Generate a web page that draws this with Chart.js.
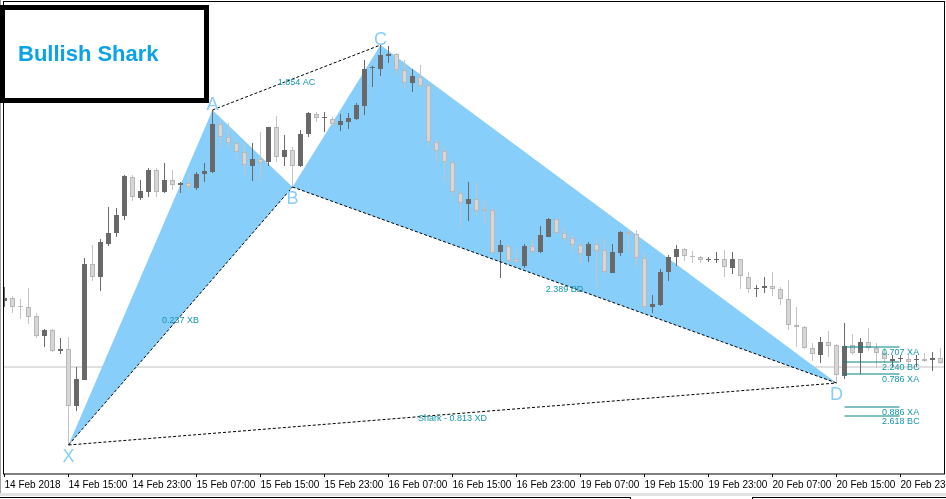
<!DOCTYPE html>
<html>
<head>
<meta charset="utf-8">
<script src="https://cdn.jsdelivr.net/npm/chart.js@4.4.0/dist/chart.umd.min.js"></script>
<style>
  html, body { margin: 0; padding: 0; background: #fff; }
  #wrap { width: 946px; height: 499px; }
</style>
</head>
<body>
<div id="wrap"><canvas id="chart" width="946" height="499"></canvas></div>
<script>
// H1 candles from 14 Feb 2018 07:00, prices in chart units (price scale is cut off in the picture)
const opens = [199,202,194,193,184,164,170,149,151,94,
  120,236,223,256,267,284,323,302,308,330,
  308,320,315,317,312,326,328,376,363,357,
  348,334,341,338,373,343,350,334,366,386,
  382,381,375,378,381,394,432,431,444,446,
  430,417,423,415,358,349,338,307,296,301,
  291,290,248,254,241,234,254,248,263,281,
  267,262,255,244,256,250,227,247,268,266,
  242,193,195,228,243,251,244,243,240,240,
  241,232,241,223,211,212,214,211,201,175,
  173,152,145,158,155,124,155,147,158,152,
  147,139,141,141,140,141,140,142];
const highs = [213,204,201,212,187,171,171,162,163,133,
  242,255,261,293,292,325,325,320,332,332,
  337,330,318,328,328,337,390,382,377,360,
  357,357,368,373,384,365,353,370,388,388,
  388,383,386,387,397,440,434,455,454,447,
  440,431,435,417,360,353,338,310,318,318,
  298,292,260,255,250,256,262,274,282,282,
  272,265,258,258,262,260,256,269,271,270,
  248,205,231,245,255,252,249,244,243,248,
  250,248,241,228,215,223,228,213,220,193,
  174,157,163,169,156,177,166,162,172,157,
  152,145,145,145,145,147,148,152];
const lows = [193,187,181,176,162,153,148,146,55,89,
  120,219,209,254,263,280,299,300,303,303,
  307,310,307,310,310,318,327,353,352,341,
  325,319,321,334,338,334,313,333,363,378,
  368,373,369,371,380,385,413,424,437,426,
  412,408,412,352,338,318,303,273,279,285,
  277,247,222,238,237,232,247,247,263,266,
  258,249,237,238,213,225,227,244,247,233,
  189,187,194,219,234,239,237,237,238,237,
  223,226,211,207,203,207,204,195,170,153,
  151,139,137,143,117,121,145,126,149,132,
  137,133,138,136,133,138,129,136];
const closes = [202,193,193,183,164,170,149,151,94,121,
  236,223,258,267,285,324,303,309,330,308,
  320,315,317,313,326,329,376,363,357,348,
  335,341,337,373,343,350,334,366,387,382,
  383,376,379,382,395,431,433,445,446,430,
  417,424,414,358,349,338,308,297,301,289,
  289,247,255,239,238,254,248,265,281,267,
  261,255,246,256,249,228,248,268,266,242,
  193,196,228,243,251,244,243,240,241,241,
  233,241,224,211,212,214,211,201,175,173,
  152,146,158,154,125,154,147,158,152,147,
  141,141,142,138,141,139,142,137];

// harmonic pattern points (bar index, price)
const patternNames = ['X', 'A', 'B', 'C', 'D'];
const patternIdx = [8, 26, 36, 47, 104];
const patternVals = [55, 390, 313, 455, 117];

// dotted legs with their ratio text
const legText = ['0.237 XB', '1.854 AC', '2.389 BD', 'Shark - 0.813 XD'];
const legFrom = [0, 1, 2, 0];
const legTo = [2, 3, 4, 4];

// target levels on the right
const levelNames = ['0.707 XA', '2.240 BC', '0.786 XA', '0.886 XA', '2.618 BC'];
const levelVals = [153, 138, 126, 93, 84];
const bidPrice = 133;

const tickIdx = [0, 8, 16, 24, 32, 40, 48, 56, 64, 72, 80, 88, 96, 104, 112];
const tickLabels = ['14 Feb 2018', '14 Feb 15:00', '14 Feb 23:00', '15 Feb 07:00', '15 Feb 15:00',
  '15 Feb 23:00', '16 Feb 07:00', '16 Feb 15:00', '16 Feb 23:00', '19 Feb 07:00',
  '19 Feb 15:00', '19 Feb 23:00', '20 Feb 07:00', '20 Feb 15:00', '20 Feb 23:00'];

const FONT = '"Liberation Sans", Arial, sans-serif';
const DARK = '#696969';
const LIGHT = '#d6d6d6';
const LIGHT_EDGE = '#b8b8b8';
const SKY = '#87cefa';

const up = opens.map((o, i) => closes[i] > o);
const pt = k => ({ x: patternIdx[k], y: patternVals[k] });

function dashed(k) {
  return {
    type: 'line', order: 0,
    data: [pt(legFrom[k]), pt(legTo[k])],
    borderColor: '#000', borderWidth: 1, borderDash: [3, 2],
    pointRadius: 0, fill: false
  };
}

const datasets = [
  // 0: bid line
  { type: 'line', order: 6, data: [{ x: -0.1875, y: bidPrice }, { x: 117.5625, y: bidPrice }],
    borderColor: '#c0c0c0', borderWidth: 1, pointRadius: 0, fill: false },
  // 1: X-A-B outline filled down to the X-B leg
  { type: 'line', order: 5, data: [pt(0), pt(1), pt(2)],
    borderColor: 'rgba(0,0,0,0)', borderWidth: 1, pointRadius: 0,
    backgroundColor: SKY, fill: 2 },
  // 2: X-B leg
  dashed(0),
  // 3: B-C-D outline filled down to the B-D leg
  { type: 'line', order: 5, data: [pt(2), pt(3), pt(4)],
    borderColor: 'rgba(0,0,0,0)', borderWidth: 1, pointRadius: 0,
    backgroundColor: SKY, fill: 4 },
  // 4: B-D leg
  dashed(2),
  // 5, 6: A-C and X-D legs
  dashed(1),
  dashed(3),
  // 7: wicks
  { type: 'bar', order: 2, grouped: false, barThickness: 1, inflateAmount: 0,
    data: lows.map((l, i) => ({ x: i, y: [l, highs[i]] })),
    backgroundColor: up.map(u => u ? DARK : '#c4c4c4'), borderWidth: 0 },
  // 8: bodies
  { type: 'bar', order: 1, grouped: false, barThickness: 5, inflateAmount: 0,
    data: opens.map((o, i) => ({ x: i, y: [Math.min(o, closes[i]), Math.max(o, closes[i])] })),
    backgroundColor: up.map(u => u ? DARK : LIGHT),
    borderColor: up.map(u => u ? DARK : LIGHT_EDGE),
    borderWidth: 1, borderSkipped: false }
];

levelVals.forEach(v => {
  datasets.push({ type: 'line', order: 0, data: [{ x: 105, y: v }, { x: 111.875, y: v }],
    borderColor: '#008080', borderWidth: 1, pointRadius: 0, fill: false });
});

const overlay = {
  id: 'overlay',
  afterDatasetsDraw(chart) {
    const { ctx, scales: { x, y } } = chart;
    ctx.save();
    ctx.font = '9px ' + FONT;
    ctx.fillStyle = '#1496aa';
    ctx.textAlign = 'center';
    ctx.textBaseline = 'middle';
    legText.forEach((t, k) => {
      const a = legFrom[k], b = legTo[k];
      const mx = (x.getPixelForValue(patternIdx[a]) + x.getPixelForValue(patternIdx[b])) / 2;
      const my = (y.getPixelForValue(patternVals[a]) + y.getPixelForValue(patternVals[b])) / 2;
      ctx.fillText(t, mx, my + 5);
    });
    ctx.textAlign = 'left';
    ctx.textBaseline = 'top';
    levelNames.forEach((t, k) => {
      ctx.fillText(t, x.getPixelForValue(109.7), y.getPixelForValue(levelVals[k]) + 1);
    });
    ctx.font = '18px ' + FONT;
    ctx.fillStyle = SKY;
    ctx.textAlign = 'center';
    ctx.textBaseline = 'middle';
    patternNames.forEach((n, k) => {
      const px = x.getPixelForValue(patternIdx[k]);
      const py = y.getPixelForValue(patternVals[k]) + (k % 2 ? -5 : 12);
      ctx.fillText(n, px, py);
    });
    ctx.restore();
  },
  afterDraw(chart) {
    const { ctx, chartArea: ca } = chart;
    ctx.save();
    // plot frame
    ctx.strokeStyle = '#000';
    ctx.lineWidth = 1;
    ctx.strokeRect(ca.left + 0.5, ca.top - 0.5, ca.right - ca.left - 1, ca.bottom - ca.top + 0.5);
    // window edges
    ctx.fillStyle = '#a0a0a0';
    ctx.fillRect(0, 0, 1, 494);
    ctx.fillStyle = '#e2e2e2';
    ctx.fillRect(0, 493, 946, 3);
    ctx.fillStyle = '#000';
    ctx.fillRect(0, 497, 630, 1);
    ctx.fillRect(752, 497, 194, 1);
    ctx.fillRect(630, 497, 1, 2);
    ctx.fillRect(752, 497, 1, 2);
    // title box
    ctx.fillStyle = '#fff';
    ctx.fillRect(2, 7, 205, 94);
    ctx.lineWidth = 5;
    ctx.strokeRect(2.5, 7.5, 204, 93);
    ctx.font = 'bold 22px ' + FONT;
    ctx.fillStyle = '#0ba2e8';
    ctx.textAlign = 'left';
    ctx.textBaseline = 'alphabetic';
    ctx.fillText('Bullish Shark', 18, 61);
    ctx.restore();
  }
};

new Chart(document.getElementById('chart'), {
  type: 'bar',
  data: { datasets },
  options: {
    responsive: false,
    animation: false,
    devicePixelRatio: 1,
    layout: { padding: { left: 3, right: 1, top: 2, bottom: 0 } },
    plugins: { legend: { display: false }, tooltip: { enabled: false } },
    scales: {
      x: {
        type: 'linear',
        offset: false,
        min: -0.1875,
        max: 117.5625,
        afterBuildTicks: s => { s.ticks = tickIdx.map(v => ({ value: v })); },
        afterFit: s => { s.height = 25; s.paddingLeft = 0; s.paddingRight = 0; },
        ticks: {
          autoSkip: false, maxRotation: 0, minRotation: 0, align: 'start', padding: 2,
          color: '#000', font: { family: FONT, size: 10 },
          callback: (v, i) => tickLabels[i]
        },
        grid: { offset: false, drawOnChartArea: false, drawTicks: true, tickLength: 3, color: '#000' },
        border: { display: false }
      },
      y: { display: false, min: 26, max: 498 }
    }
  },
  plugins: [overlay]
});
</script>
</body>
</html>
